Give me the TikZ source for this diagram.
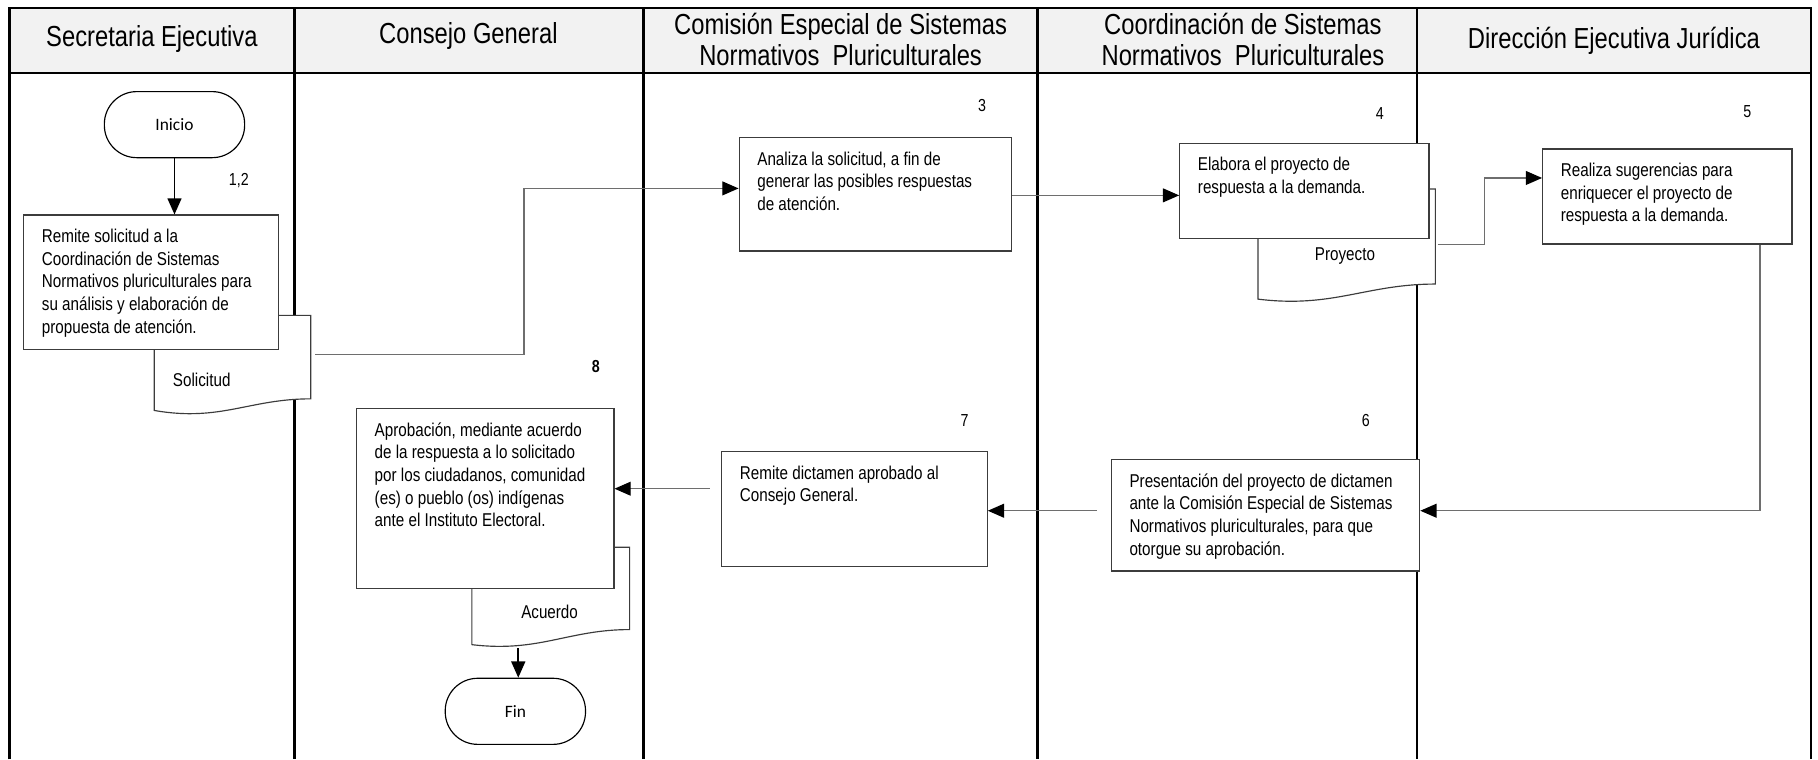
\documentclass[tikz,border=0pt]{standalone}
\usepackage{fontspec}
\setmainfont{Liberation Sans}[FakeStretch=0.82]
\newfontfamily\narrowfont{Liberation Sans}[FakeStretch=0.82]
\newfontfamily\calibfont{Carlito}
\usetikzlibrary{arrows.meta}
\definecolor{hdrfill}{RGB}{242,242,242}
\definecolor{boxc}{RGB}{60,60,60}
\definecolor{connc}{RGB}{110,110,110}
\tikzset{
  lane/.style={line width=2.2pt,black},
  box/.style={draw=boxc,fill=white,line width=1pt,inner sep=0pt,anchor=north west},
  txt/.style={font=\narrowfont\fontsize{16}{19.5}\selectfont,align=left,inner sep=0pt,anchor=north west},
  hdr/.style={font=\narrowfont\fontsize{25}{27}\selectfont,align=center,inner sep=0pt},
  num/.style={font=\narrowfont\fontsize{15}{17}\selectfont,inner sep=0pt},
  term/.style={draw=black,fill=white,line width=1pt,rounded corners=28pt,minimum width=121pt,minimum height=57pt,inner sep=0pt,font=\calibfont\fontsize{15}{17}\selectfont},
  docshape/.style={draw=boxc,fill=white,line width=1pt},
  conn/.style={draw=connc,line width=1pt,-{Triangle[length=14pt,width=12pt,color=black,fill=black]}},
  bconn/.style={draw=black,line width=1.6pt,-{Triangle[length=14pt,width=12pt,color=black,fill=black]}},
  doctext/.style={font=\narrowfont\fontsize{16}{19}\selectfont,inner sep=0pt}
}
\newcommand\mybox[6]{%
  \node[box,minimum width=#4pt,minimum height=#5pt] (#1) at (#2pt,-#3pt) {};
  \node[txt] (#1t) at ([xshift=16pt,yshift=-10.5pt]#1.north west) {\strut #6};}
\begin{document}
\begin{tikzpicture}[x=1pt,y=1pt]
\useasboundingbox (0,0) rectangle (1568,-655);
% header
\fill[hdrfill] (8,-7) rectangle (1562,-63);
\draw[lane] (8,-655) -- (8,-7) -- (1562,-7) -- (1562,-655);
\draw[lane] (8,-63) -- (1562,-63);
\foreach \xx in {254,555,895,1222} \draw[lane] (\xx,-7) -- (\xx,-655);
\node[hdr] (h1) at (131,-34) {Secretaria Ejecutiva};
\node[hdr] (h2) at (404,-31) {Consejo General};
\node[hdr] (h3) at (725,-34) {Comisión Especial de Sistemas\\Normativos\ \ Pluriculturales};
\node[hdr] (h4) at (1072,-34) {Coordinación de Sistemas\\Normativos\ \ Pluriculturales};
\node[hdr] (h5) at (1392,-35) {Dirección Ejecutiva Jurídica};
% numbers
\node[num] (n12) at (206,-156) {1,2};
\node[num] (n3) at (847,-91) {3};
\node[num] (n4) at (1190,-98) {4};
\node[num] (n5) at (1507,-96) {5};
\node[num] (n6) at (1178,-363) {6};
\node[num] (n7) at (832,-363) {7};
\node[num,font=\narrowfont\bfseries\fontsize{15}{17}\selectfont] (n8) at (514,-316) {8};
% documents (behind boxes)
\draw[docshape] (133,-272) -- (268,-272) -- (268,-344) .. controls (215,-344) and (190,-364) .. (133,-354) -- cycle;
\node[doctext] (soltx) at (174,-328) {Solicitud};
\coordinate (solOut) at (272,-306);
\draw[docshape] (1085,-163) -- (1238,-163) -- (1238,-245) .. controls (1178,-245) and (1150,-266) .. (1085,-258) -- cycle;
\node[doctext] (proytx) at (1160,-221) {Proyecto};
\coordinate (proyOut) at (1240,-211);
\draw[docshape] (407,-472) -- (543,-472) -- (543,-543) .. controls (490,-543) and (465,-563) .. (407,-556) -- cycle;
\node[doctext] (acutx) at (474,-528) {Acuerdo};
\coordinate (acuOut) at (447,-559);
% terminals
\node[term] (inicio) at (150.5,-107.5) {Inicio};
\node[term] (fin) at (444.5,-613.5) {Fin};
% process boxes
\mybox{remite}{20}{185}{220}{116}{Remite solicitud a la\\Coordinación de Sistemas\\Normativos pluriculturales para\\su análisis y elaboración de\\propuesta de atención.}
\mybox{analiza}{637}{118}{235}{98}{Analiza la solicitud, a fin de\\generar las posibles respuestas\\de atención.}
\mybox{elabora}{1017}{123}{215}{82}{Elabora el proyecto de\\respuesta a la demanda.}
\mybox{realiza}{1330}{128}{215}{82}{Realiza sugerencias para\\enriquecer el proyecto de\\respuesta a la demanda.}
\mybox{present}{958}{396}{266}{96}{Presentación del proyecto de dictamen\\ante la Comisión Especial de Sistemas\\Normativos pluriculturales, para que\\otorgue su aprobación.}
\mybox{dictam}{622}{389}{229}{99}{Remite dictamen aprobado al\\Consejo General.}
\mybox{aprob}{307}{352}{222}{155}{Aprobación, mediante acuerdo\\de la respuesta a lo solicitado\\por los ciudadanos, comunidad\\(es) o pueblo (os) indígenas\\ante el Instituto Electoral.}
% connectors
\draw[bconn] (inicio.south) -- (inicio.south |- remite.north);
\draw[conn] (solOut) -- ++(180,0) |- ([yshift=5pt]analiza.west);
\draw[conn] ([yshift=-1pt]analiza.east) -- ([yshift=-1pt]analiza.east -| elabora.west);
\draw[conn] (proyOut) -- ++(40,0) |- ([yshift=16pt]realiza.west);
\draw[conn] ([xshift=-28pt]realiza.south east) |- ([yshift=4pt]present.east);
\draw[conn,shorten <=12pt] ([yshift=4pt]present.west) -- ([yshift=4pt]present.west -| dictam.east);
\draw[conn,shorten <=10pt] ([yshift=17.5pt]dictam.west) -- ([yshift=17.5pt]dictam.west -| aprob.east);
\draw[bconn] (acuOut) -- (acuOut |- fin.north);
\end{tikzpicture}
\end{document}
